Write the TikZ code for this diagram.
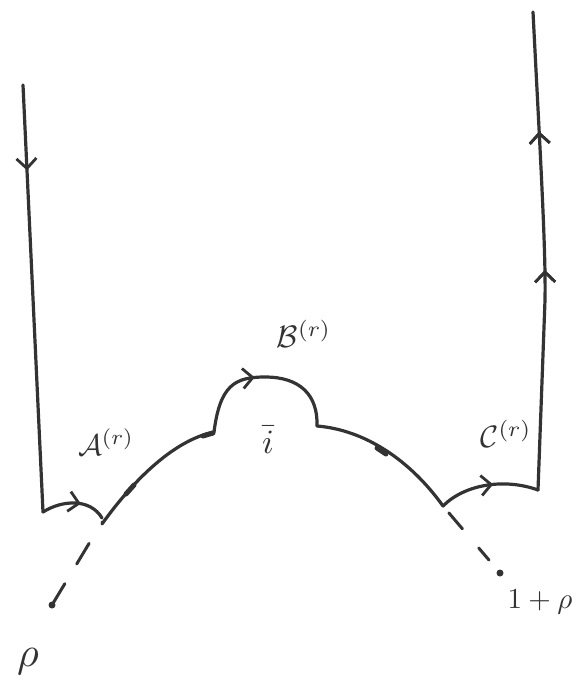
\documentclass[tikz,border=0pt]{standalone}
\usepackage{graphicx}
\usetikzlibrary{arrows.meta,decorations.markings}
\begin{document}
\begin{tikzpicture}[x=1pt,y=-1pt,
  curve/.style={line width=3.2pt,line cap=round,line join=round,draw=black!80},
  barb/.style={decoration={markings,mark=at position #1 with {\arrow{Straight Barb[length=10pt,width=20pt,line width=2.8pt]}}},postaction=decorate},
  lab/.style={inner sep=0pt,text=black!80},
  dotfill/.style={fill=black!80,draw=none}]
\useasboundingbox (0,0) rectangle (579,690);
% key points
\coordinate (LT) at (23,85);
\coordinate (LB) at (43,512);
\coordinate (AJ) at (102,518);
\coordinate (BL) at (214,432);
\coordinate (BT) at (265,377);
\coordinate (BR) at (317,426);
\coordinate (CJ) at (443,506);
\coordinate (RB) at (538,490);
\coordinate (RM) at (545,300);
\coordinate (RT) at (533,12);
\coordinate (P0) at (52,605);
\coordinate (P1) at (500,573);
% left vertical
\draw[curve,barb=0.2] (LT) -- (LB);
% A arc
\draw[curve,barb=0.6] (LB) .. controls (62,500) and (90,498) .. (AJ);
% main left curve
\draw[curve] (102,524) .. controls (135,478) and (175,440) .. (BL);
% bump
\draw[curve,barb=0.45] (BL) .. controls (220,385) and (235,377) .. (BT) .. controls (300,377) and (318,395) .. (BR);
% right curve
\draw[curve] (BR) .. controls (365,430) and (410,460) .. (CJ);
% C arc
\draw[curve,barb=0.55] (CJ) .. controls (465,484) and (505,478) .. (RB);
% right vertical
\draw[curve,barb=0.46,barb=0.75] (RB) -- (RM) .. controls (546,250) and (540,150) .. (RT);
% thick blobs
\draw[line width=5pt,line cap=round,black!80] (126,494) -- (134,485);
\draw[line width=5pt,line cap=round,black!80] (203,436) -- (213,433);
\draw[line width=5pt,line cap=round,black!80] (377,448) -- (386,454);
% dashed extensions
\draw[line width=3pt,line cap=round,black!80,dash pattern=on 0pt off 25pt on 24pt off 23pt on 22pt off 100pt] (102,522) -- (P0);
\fill[dotfill] (P0) circle (3.5pt);
\draw[line width=3pt,line cap=round,black!80,dash pattern=on 0pt off 9pt on 21pt off 25pt on 16pt off 100pt] (CJ) -- (P1);
\fill[dotfill] (P1) circle (3.5pt);
% labels
\node[lab] (A) at (106,442) {\scalebox{3.0}{$\mathcal{A}^{(r)}$}};
\node[lab] (B) at (304,334) {\scalebox{3.1}{$\mathcal{B}^{(r)}$}};
\node[lab] (C) at (506,434) {\scalebox{3.1}{$\mathcal{C}^{(r)}$}};
\node[lab] (I) at (268,440) {\scalebox{3.4}{$\bar{i}$}};
\node[lab] (R) at (28,662) {\scalebox{4.2}{$\rho$}};
\node[lab] (S) at (540,602) {\scalebox{2.9}{$1+\rho$}};
\end{tikzpicture}
\end{document}
